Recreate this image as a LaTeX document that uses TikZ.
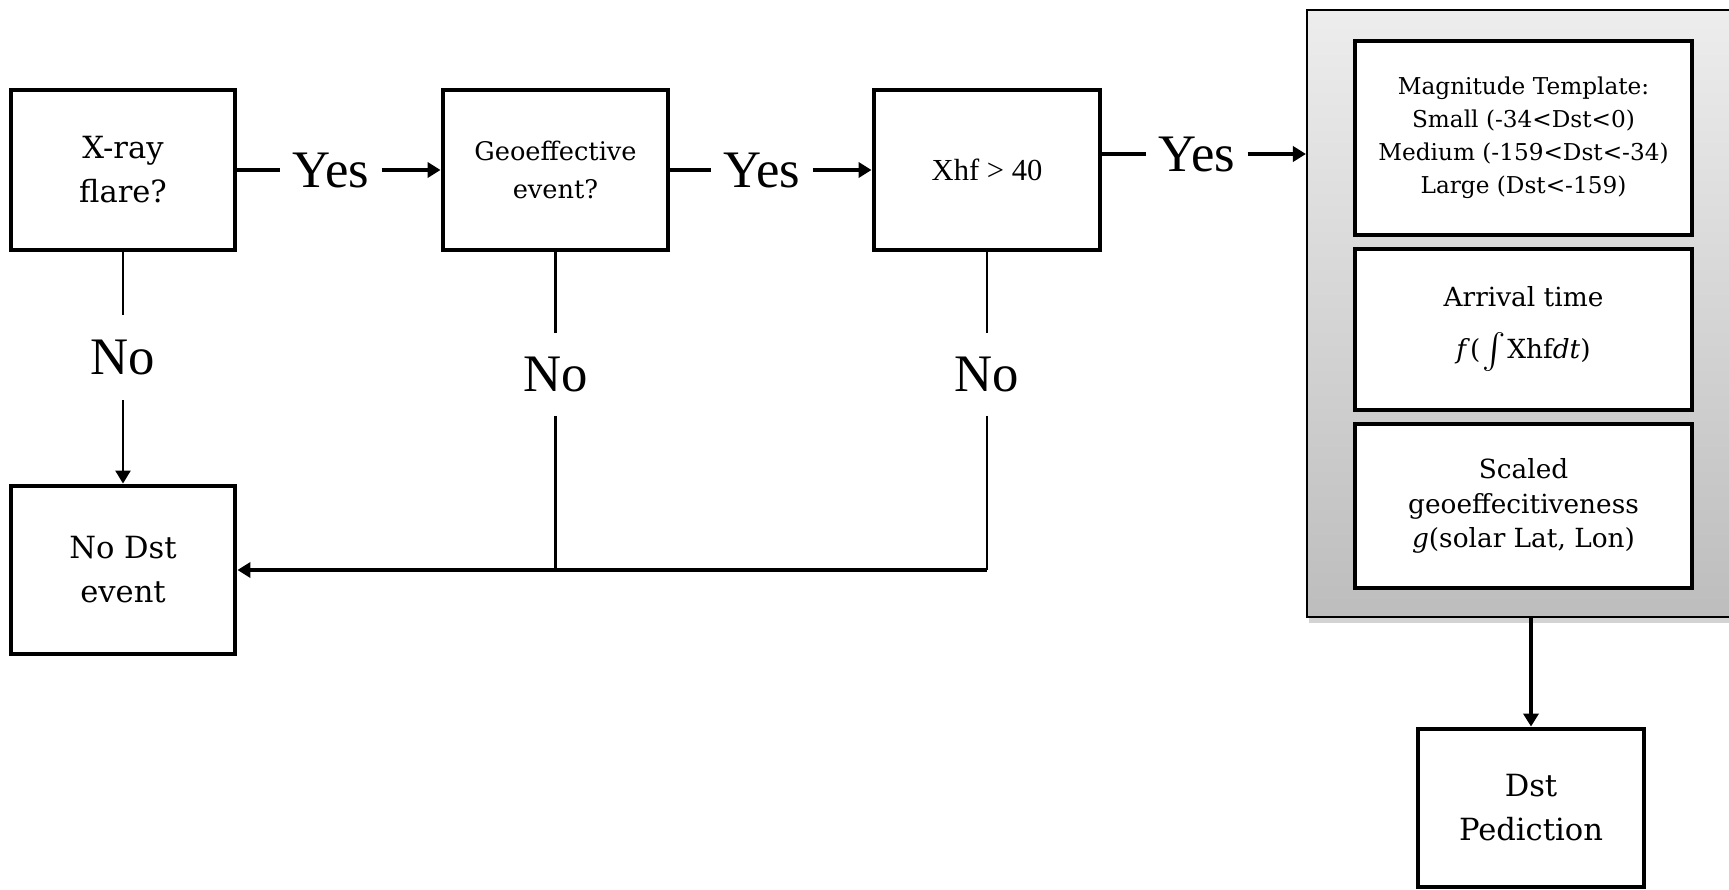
\documentclass[tikz,border=0pt]{standalone}
\usepackage{fontspec}
\setmainfont{DejaVu Serif}
\newfontfamily\timesfont{Liberation Serif}
\usetikzlibrary{arrows.meta,shadows}
\definecolor{paneltop}{RGB}{237,237,237}
\definecolor{panelbot}{RGB}{189,189,189}

\begin{document}
\begin{tikzpicture}[x=1cm,y=-1cm,
    box/.style={draw, line width=1.4pt, fill=white, align=center, inner sep=0pt,
        minimum width=2.24cm, minimum height=1.6cm,
        font=\fontsize{8.7}{12.5}\selectfont},
    stage/.style={box, minimum width=3.37cm},
    answer/.style={font=\timesfont\fontsize{15}{15}\selectfont,
        inner xsep=3.3pt, inner ysep=6.5pt},
    link/.style={line width=0.95pt},
    drop/.style={line width=0.6pt},
    flow/.style={line width=0.95pt, -{Triangle[length=3.7pt,width=4.3pt]}}]
\useasboundingbox (0,0) rectangle (17.29,8.89);

% decisions
\node[box] (flare) at (1.23,1.70) {X-ray\\flare?};
\node[box, minimum width=2.25cm, font=\fontsize{7.3}{10.8}\selectfont]
    (geo) at (5.555,1.70) {Geoeffective\\event?};
\node[box, minimum width=2.26cm, font=\timesfont\fontsize{8.7}{10}\selectfont]
    (xhf) at (9.87,1.70) {Xhf > 40};
\node[box, minimum height=1.68cm] (nodst) at (1.23,5.70) {No Dst\\event};

% model panel
\node[draw, line width=0.6pt, top color=paneltop, bottom color=panelbot,
    drop shadow={shadow xshift=0.6pt, shadow yshift=-1.6pt, opacity=0.35},
    minimum width=4.32cm, minimum height=6.07cm] (model) at (15.23,3.135) {};
\node[stage, minimum height=1.94cm, font=\fontsize{6.6}{9.4}\selectfont]
    (template) at (15.235,1.38)
    {Magnitude Template:\\Small (-34<Dst<0)\\Medium (-159<Dst<-34)\\Large (Dst<-159)};
\node[stage, minimum height=1.61cm, font=\fontsize{7.5}{9.7}\selectfont]
    (arrival) at (15.235,3.295)
    {Arrival time\\[5pt]\textit{f}(\kern0.5pt$\int$\kern0.5pt Xhf\textit{dt})};
\node[stage, minimum height=1.64cm, font=\fontsize{7.5}{9.7}\selectfont]
    (scaled) at (15.235,5.06)
    {Scaled\\geoeffecitiveness\\\textit{g}(solar Lat, Lon)};
\node[box, minimum width=2.26cm, minimum height=1.58cm] (dst) at (15.31,8.08)
    {Dst\\Pediction};

% Yes
\node[answer] (yes1) at (3.31,1.70) {Yes};
\node[answer] (yes2) at (7.62,1.70) {Yes};
\node[answer] (yes3) at (11.97,1.54) {Yes};
\draw[link] (flare) -- (yes1);
\draw[flow] (yes1) -- (geo);
\draw[link] (geo) -- (yes2);
\draw[flow] (yes2) -- (xhf);
\draw[link] (xhf.east |- yes3) -- (yes3);
\draw[flow] (yes3) -- (yes3 -| model.west);
\draw[flow] (dst |- model.south) -- (dst);

% No
\node[answer, inner ysep=7pt] (no1) at (1.23,3.575) {No};
\node[answer] (no2) at (5.555,3.745) {No};
\node[answer] (no3) at (9.87,3.745) {No};
\coordinate (join) at (no3 |- nodst);
\draw[drop] (flare) -- (no1);
\draw[drop, -{Triangle[length=3.7pt,width=4.3pt]}] (no1) -- (nodst);
\draw[drop] (geo) -- (no2);
\draw[drop] (no2) -- (no2 |- nodst);
\draw[drop] (xhf) -- (no3);
\draw[drop] (no3) -- (join);
\draw[flow] (join) -- (nodst);
\end{tikzpicture}
\end{document}
